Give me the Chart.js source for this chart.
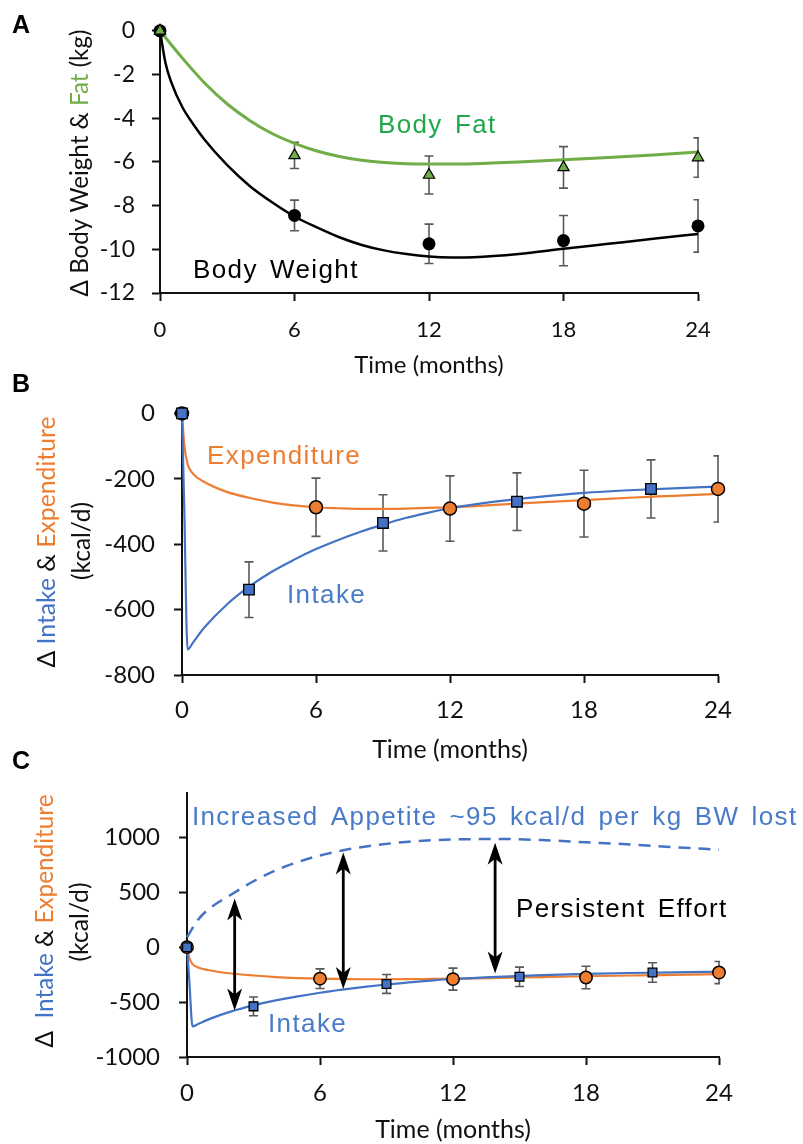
<!DOCTYPE html>
<html>
<head>
<meta charset="utf-8">
<script src="https://cdn.jsdelivr.net/npm/chart.js@4.4.0/dist/chart.umd.min.js"></script>
<style>
  body { margin: 0; background: #fff; width: 803px; height: 1144px; position: relative; overflow: hidden; }
  canvas { position: absolute; left: 0; }
  .letra { position: absolute; left: 12px; font: bold 25px "Liberation Sans", Arial, sans-serif; line-height: 25px; color: #000; }
</style>
</head>
<body>
<canvas id="chartC" width="803" height="384" style="top:760px"></canvas>
<canvas id="chartB" width="803" height="386" style="top:380px"></canvas>
<canvas id="chartA" width="803" height="380" style="top:0"></canvas>
<div class="letra" style="top:12px">A</div>
<div class="letra" style="top:371px">B</div>
<div class="letra" style="top:748px">C</div>
<script>
// Dados

// A - peso e gordura (kg)
var mesesA = [0, 6, 12, 18, 24];
var pesoMedia = [0, -8.45, -9.75, -9.6, -8.93];
var pesoErro = [0, 0.7, 0.9, 1.15, 1.2];
var gorduraMedia = [0, -5.7, -6.6, -6.25, -5.8];
var gorduraErro = [0, 0.6, 0.87, 0.95, 0.9];

var mesesModeloPeso = [0, 0.25, 0.5, 1, 1.5, 2, 3, 4, 5, 6, 7, 8, 9, 10, 11, 12, 13, 14, 16, 18, 20, 22, 24];
var pesoModelo = [0, -1.5, -2.35, -3.5, -4.3, -5.0, -6.15, -7.1, -7.85, -8.5, -9.0, -9.45, -9.8, -10.05, -10.22, -10.33, -10.37, -10.36, -10.22, -9.98, -9.75, -9.52, -9.3];
var mesesModeloGordura = [0, 1, 2, 3, 4, 5, 6, 7, 8, 9, 10, 11, 12, 13, 14, 16, 18, 20, 22, 24];
var gorduraModelo = [0, -1.25, -2.4, -3.35, -4.1, -4.7, -5.15, -5.5, -5.75, -5.92, -6.03, -6.09, -6.1, -6.1, -6.08, -6.0, -5.9, -5.8, -5.68, -5.55];

// B e C - ingestão e gasto (kcal/d)
var mesesIngestao = [0, 3, 9, 15, 21];
var ingestaoMedia = [0, -539, -335, -270, -231];
var ingestaoErro = [0, 85, 86, 88, 89];
var mesesGasto = [0, 6, 12, 18, 24];
var gastoMedia = [0, -287, -291, -276, -231];
var gastoErro = [0, 89, 100, 102, 101];

var mesesModeloB = [0, 0.1, 0.25, 0.5, 1, 2, 3, 4, 5, 6, 7, 8, 9, 10, 11, 12, 14, 16, 18, 20, 22, 24];
var ingestaoModelo = [0, -289, -722, -700, -655, -585, -530, -485, -448, -415, -387, -362, -340, -320, -304, -290, -270, -255, -243, -235, -229, -224];
var gastoModelo = [0, -95, -155, -185, -210, -240, -258, -272, -281, -287, -290, -292, -292, -291, -289, -287, -280, -272, -265, -258, -252, -246];

// C - apetite
var mesesApetite = [0, 0.5, 1, 2, 3, 4, 5, 6, 7, 8, 10, 12, 14, 16, 18, 20, 22, 24];
var apetiteModelo = [90, 250, 350, 480, 600, 700, 775, 835, 880, 915, 960, 980, 985, 975, 955, 935, 910, 888];

// setas duplas do painel C
var setaMeses = [2.15, 7.05, 13.9];
var setaTopo = [444, 861, 950];
var setaBase = [-577, -382, -240];

var ticksYA = [0, -2, -4, -6, -8, -10, -12];
var ticksYB = [0, -200, -400, -600, -800];
var ticksYC = [1000, 500, 0, -500, -1000];

var VERDE = '#70AD47', LARANJA = '#ED7D31', AZUL = '#4472C4';
var FONTE_EIXO = 'Lato, "Open Sans", sans-serif';
var FONTE_TEXTO = '"Liberation Sans", Arial, sans-serif';

function pontos(xs, ys) {
    return xs.map(function(v, i) { return { x: v, y: ys[i] }; });
}

// Barras de erro
var barrasErro = {
    id: 'barrasErro',
    beforeDatasetsDraw: function(chart, args, opts) {
        var ctx = chart.ctx, x = chart.scales.x, y = chart.scales.y;
        var area = chart.chartArea;
        ctx.save();
        ctx.beginPath();
        ctx.rect(0, 0, area.right + 1, chart.height);
        ctx.clip();
        ctx.strokeStyle = '#595959';
        ctx.lineWidth = 1.6;
        (opts.series || []).forEach(function(s) {
            s.meses.forEach(function(m, i) {
                var e = s.erro[i];
                if (!e) return;
                var px = x.getPixelForValue(m);
                var y1 = y.getPixelForValue(s.media[i] - e);
                var y2 = y.getPixelForValue(s.media[i] + e);
                ctx.beginPath();
                ctx.moveTo(px, y1); ctx.lineTo(px, y2);
                ctx.moveTo(px - 4.5, y1); ctx.lineTo(px + 4.5, y1);
                ctx.moveTo(px - 4.5, y2); ctx.lineTo(px + 4.5, y2);
                ctx.stroke();
            });
        });
        ctx.restore();
    }
};

// Textos, títulos do eixo Y e setas
var textos = {
    id: 'textos',
    afterDraw: function(chart, args, opts) {
        var ctx = chart.ctx, x = chart.scales.x, y = chart.scales.y;

        (opts.rotulos || []).forEach(function(r) {
            ctx.save();
            ctx.font = '26px ' + FONTE_TEXTO;
            ctx.letterSpacing = '1.4px';
            ctx.wordSpacing = '3.5px';
            ctx.fillStyle = r.cor;
            ctx.textAlign = 'left';
            ctx.textBaseline = 'middle';
            ctx.fillText(r.texto, x.getPixelForValue(r.x), y.getPixelForValue(r.y));
            ctx.restore();
        });

        (opts.tituloY || []).forEach(function(linha) {
            ctx.save();
            ctx.translate(linha.cx, linha.cy);
            ctx.rotate(-Math.PI / 2);
            ctx.font = '22px ' + FONTE_EIXO;
            var largura = 0;
            linha.partes.forEach(function(p) { largura += ctx.measureText(p[0]).width; });
            var tamanho = 22 * linha.comprimento / largura;
            ctx.font = tamanho.toFixed(2) + 'px ' + FONTE_EIXO;
            ctx.textBaseline = 'middle';
            ctx.textAlign = 'left';
            var total = 0;
            linha.partes.forEach(function(p) { total += ctx.measureText(p[0]).width; });
            var pos = -total / 2;
            linha.partes.forEach(function(p) {
                ctx.fillStyle = p[1];
                ctx.fillText(p[0], pos, 0);
                pos += ctx.measureText(p[0]).width;
            });
            ctx.restore();
        });

        if (opts.setas) {
            ctx.save();
            ctx.strokeStyle = '#000';
            ctx.fillStyle = '#000';
            ctx.lineWidth = 2.8;
            opts.setas.meses.forEach(function(m, i) {
                var px = x.getPixelForValue(m);
                var yt = y.getPixelForValue(opts.setas.topo[i]);
                var yb = y.getPixelForValue(opts.setas.base[i]);
                ctx.beginPath();
                ctx.moveTo(px, yt + 10); ctx.lineTo(px, yb - 10);
                ctx.stroke();
                [[yt, 1], [yb, -1]].forEach(function(c) {
                    ctx.beginPath();
                    ctx.moveTo(px, c[0]);
                    ctx.lineTo(px - 7.5, c[0] + 22 * c[1]);
                    ctx.lineTo(px, c[0] + 16 * c[1]);
                    ctx.lineTo(px + 7.5, c[0] + 22 * c[1]);
                    ctx.closePath();
                    ctx.fill();
                });
            });
            ctx.restore();
        }
    }
};

function semSeparador(v) { return String(v); }

function eixoX(tamTick, padTick, tamTitulo, padTitulo, alturaEixo) {
    return {
        type: 'linear', min: 0, max: 24,
        ticks: { stepSize: 6, color: '#111', font: { family: FONTE_EIXO, size: tamTick }, padding: padTick, callback: semSeparador },
        grid: { drawOnChartArea: false, drawTicks: true, tickLength: 8, tickWidth: 2, tickColor: '#111' },
        border: { color: '#111', width: 2 },
        title: { display: true, text: 'Time (months)', color: '#111',
                 font: { family: FONTE_EIXO, size: tamTitulo, lineHeight: 1 }, padding: { top: 0, bottom: padTitulo } },
        afterFit: function(s) { s.height = alturaEixo; }
    };
}

function eixoY(min, max, lista, tamTick, padTick, larguraEixo) {
    return {
        type: 'linear', min: min, max: max,
        afterBuildTicks: function(s) { s.ticks = lista.map(function(v) { return { value: v }; }); },
        ticks: { color: '#111', font: { family: FONTE_EIXO, size: tamTick }, padding: padTick, callback: semSeparador },
        grid: { drawOnChartArea: false, drawTicks: true, tickLength: 8, tickWidth: 2, tickColor: '#111' },
        border: { color: '#111', width: 2 },
        afterFit: function(s) { s.width = larguraEixo; }
    };
}

function marcador(dados, estilo, raio, cor, borda) {
    return {
        data: dados, showLine: false, clip: false,
        pointStyle: estilo, pointRadius: raio, pointHoverRadius: raio,
        pointBackgroundColor: cor, pointBorderColor: '#000', pointBorderWidth: borda
    };
}

function curva(dados, cor, largura, tracejado) {
    return {
        data: dados, borderColor: cor, borderWidth: largura, pointRadius: 0, clip: false,
        cubicInterpolationMode: 'monotone', borderDash: tracejado || [], fill: false
    };
}

Chart.defaults.animation = false;
Chart.defaults.plugins.legend.display = false;
Chart.defaults.plugins.tooltip.enabled = false;

// Painel A
new Chart('chartA', {
    type: 'line',
    data: {
        datasets: [
            marcador(pontos(mesesA, gorduraMedia), 'triangle', 6.5, VERDE, 1.2),
            marcador(pontos(mesesA, pesoMedia), 'circle', 6.5, '#000', 0),
            curva(pontos(mesesModeloGordura, gorduraModelo), VERDE, 3),
            curva(pontos(mesesModeloPeso, pesoModelo), '#000', 2.5)
        ]
    },
    options: {
        responsive: false, devicePixelRatio: 1,
        layout: { padding: { top: 24, left: 0, right: 105, bottom: 0 } },
        scales: {
            x: eixoX(22, 15.8, 24, 3, 87),
            y: eixoY(-12, 0, ticksYA, 23, 17, 160)
        },
        plugins: {
            barrasErro: { series: [
                { meses: mesesA, media: gorduraMedia, erro: gorduraErro },
                { meses: mesesA, media: pesoMedia, erro: pesoErro }
            ] },
            textos: {
                rotulos: [
                    { texto: 'Body Fat', x: 9.72, y: -4.37, cor: '#1FA84B' },
                    { texto: 'Body Weight', x: 1.47, y: -10.97, cor: '#000' }
                ],
                tituloY: [
                    { cx: 80, cy: 163, comprimento: 267,
                      partes: [['\u0394 Body Weight & ', '#111'], ['Fat', VERDE], [' (kg)', '#111']] }
                ]
            }
        }
    },
    plugins: [barrasErro, textos]
});

// Painel B
new Chart('chartB', {
    type: 'line',
    data: {
        datasets: [
            marcador(pontos(mesesIngestao, ingestaoMedia), 'rect', 7.5, AZUL, 1.3),
            marcador(pontos(mesesGasto, gastoMedia), 'circle', 6.5, LARANJA, 1.5),
            curva(pontos(mesesModeloB, ingestaoModelo), AZUL, 2.2),
            curva(pontos(mesesModeloB, gastoModelo), LARANJA, 2.2)
        ]
    },
    options: {
        responsive: false, devicePixelRatio: 1,
        layout: { padding: { top: 25, left: 0, right: 85, bottom: 0 } },
        scales: {
            x: eixoX(24, 12.6, 25, 3.5, 91),
            y: eixoY(-800, 0, ticksYB, 24, 19, 182)
        },
        plugins: {
            barrasErro: { series: [
                { meses: mesesIngestao, media: ingestaoMedia, erro: ingestaoErro },
                { meses: mesesGasto, media: gastoMedia, erro: gastoErro }
            ] },
            textos: {
                rotulos: [
                    { texto: 'Expenditure', x: 1.12, y: -133, cor: LARANJA },
                    { texto: 'Intake', x: 4.7, y: -557, cor: '#4A7BC8' }
                ],
                tituloY: [
                    { cx: 47, cy: 162, comprimento: 251,
                      partes: [['\u0394 ', '#111'], ['Intake', AZUL], [' & ', '#111'], ['Expenditure', LARANJA]] },
                    { cx: 82, cy: 161, comprimento: 78, partes: [['(kcal/d)', '#111']] }
                ]
            }
        }
    },
    plugins: [barrasErro, textos]
});

// Painel C
new Chart('chartC', {
    type: 'line',
    data: {
        datasets: [
            marcador(pontos(mesesIngestao, ingestaoMedia), 'rect', 6.2, AZUL, 1.3),
            marcador(pontos(mesesGasto, gastoMedia), 'circle', 6.2, LARANJA, 1.5),
            curva(pontos(mesesModeloB, ingestaoModelo), AZUL, 2.2),
            curva(pontos(mesesModeloB, gastoModelo), LARANJA, 2.2),
            curva(pontos(mesesApetite, apetiteModelo), AZUL, 2.5, [12, 8])
        ]
    },
    options: {
        responsive: false, devicePixelRatio: 1,
        layout: { padding: { top: 27, left: 0, right: 84, bottom: 0 } },
        scales: {
            x: eixoX(24, 13.6, 25, 1.5, 87),
            y: eixoY(-1000, 1400, ticksYC, 24, 19, 187)
        },
        plugins: {
            barrasErro: { series: [
                { meses: mesesIngestao, media: ingestaoMedia, erro: ingestaoErro },
                { meses: mesesGasto, media: gastoMedia, erro: gastoErro }
            ] },
            textos: {
                rotulos: [
                    { texto: 'Increased Appetite ~95 kcal/d per kg BW lost', x: 0.22, y: 1181, cor: '#4A7BC8' },
                    { texto: 'Persistent Effort', x: 14.84, y: 337, cor: '#000' },
                    { texto: 'Intake', x: 3.65, y: -710, cor: '#4A7BC8' }
                ],
                tituloY: [
                    { cx: 45, cy: 161, comprimento: 253,
                      partes: [['\u0394  ', '#111'], ['Intake', AZUL], [' & ', '#111'], ['Expenditure', LARANJA]] },
                    { cx: 80, cy: 162, comprimento: 79, partes: [['(kcal/d)', '#111']] }
                ],
                setas: { meses: setaMeses, topo: setaTopo, base: setaBase }
            }
        }
    },
    plugins: [barrasErro, textos]
});
</script>
</body>
</html>
